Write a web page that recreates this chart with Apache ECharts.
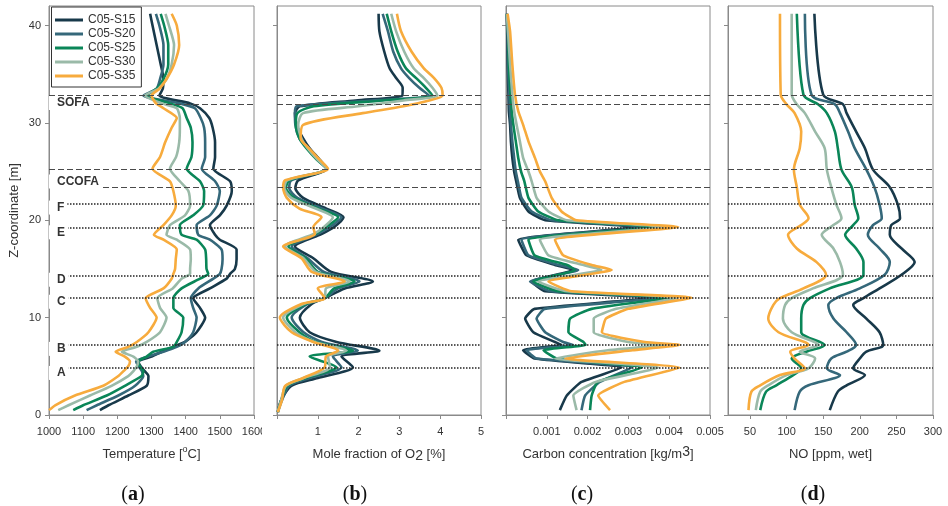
<!DOCTYPE html>
<html>
<head>
<meta charset="utf-8">
<script src="https://cdn.jsdelivr.net/npm/echarts@6/dist/echarts.min.js"></script>
<style>
  html, body { margin: 0; padding: 0; background: #fff; }
  #chart { width: 948px; height: 506px; }
</style>
</head>
<body>
<div id="chart"></div>
<script>
// Cases shown in every panel
const caseNames  = ['C05-S15', 'C05-S20', 'C05-S25', 'C05-S30', 'C05-S35'];
const caseColors = ['#18394a', '#35687a', '#0a8658', '#9abaa8', '#f7ab3d'];

// Burner / air-port elevations [m]
const dashedLevels = [32.8, 31.95, 25.2, 23.4];
const dottedLevels = [21.65, 19.25, 14.35, 12.0, 7.2, 4.85];
const zoneNames    = ['SOFA', 'CCOFA', 'F', 'E', 'D', 'C', 'B', 'A'];
const zoneLabelZ   = [32.03, 23.97, 21.3, 18.76, 13.89, 11.63, 6.79, 4.32];

// (a) Temperature [°C] versus height
const zTemp = [0.5, 1, 2, 3, 4, 4.5, 5, 5.5, 6, 6.5, 7, 7.5, 8.5, 10, 11, 12, 13, 14, 14.5, 15,
  16, 17, 18, 18.5, 19.5, 20.5, 21.5, 23, 24, 25.3, 26.5, 28, 29.5, 30.5, 31.5, 32, 32.8, 33.5,
  34.5, 36, 38, 40, 41.2];
const tempS15 = [1149, 1174, 1232, 1286, 1291, 1280, 1268, 1262, 1300, 1330, 1364, 1398, 1432, 1457, 1442,
  1422, 1471, 1520, 1530, 1544, 1549, 1549, 1500, 1486, 1471, 1500, 1520, 1535, 1530, 1481,
  1486, 1486, 1479, 1469, 1442, 1413, 1323, 1333, 1335, 1327, 1315, 1303, 1296];
const tempS20 = [1110, 1140, 1203, 1252, 1276, 1272, 1262, 1255, 1290, 1335, 1374, 1398, 1422, 1432, 1422,
  1415, 1437, 1481, 1500, 1505, 1508, 1505, 1471, 1437, 1432, 1471, 1491, 1500, 1486, 1447,
  1457, 1457, 1454, 1444, 1427, 1383, 1276, 1315, 1325, 1335, 1335, 1323, 1313];
const tempS25 = [1071, 1100, 1169, 1222, 1271, 1276, 1266, 1261, 1286, 1305, 1364, 1374, 1388, 1393, 1364,
  1364, 1388, 1442, 1466, 1461, 1460, 1457, 1432, 1388, 1383, 1422, 1451, 1454, 1442, 1403,
  1417, 1420, 1415, 1403, 1391, 1354, 1285, 1315, 1335, 1349, 1349, 1337, 1327];
const tempS30 = [1027, 1057, 1120, 1183, 1232, 1247, 1257, 1261, 1247, 1213, 1257, 1286, 1325, 1344, 1325,
  1317, 1362, 1388, 1413, 1413, 1415, 1413, 1374, 1344, 1354, 1398, 1413, 1408, 1383, 1354,
  1372, 1381, 1383, 1383, 1374, 1330, 1280, 1320, 1344, 1359, 1366, 1351, 1341];
const tempS35 = [1000, 1018, 1076, 1159, 1203, 1218, 1232, 1237, 1222, 1195, 1232, 1257, 1291, 1315, 1296,
  1283, 1335, 1359, 1364, 1369, 1371, 1374, 1335, 1307, 1335, 1359, 1371, 1364, 1354, 1303,
  1325, 1340, 1359, 1374, 1335, 1313, 1300, 1323, 1344, 1366, 1381, 1374, 1359];

// (b) O2 mole fraction [%] versus height
const zO2 = [0.3, 1.5, 3.0, 3.8, 4.9, 6.0, 6.6, 7.5, 8.5, 10.0, 11.4, 12.0, 13.0, 13.7, 14.7, 16.1, 17.3,
  18.6, 19.3, 20.3, 21.2, 22.3, 23.3, 24.1, 25.3, 26.2, 27.4, 28.4, 29.8, 31.0, 31.7, 32.3, 32.8,
  33.6, 34.6, 35.6, 37.3, 39.4, 41.2];
const o2S15 = [0.02, 0.1, 0.35, 1.0, 1.86, 1.58, 2.51, 1.46, 0.8, 0.56, 0.85, 1.17, 1.66, 2.35, 1.33,
  0.89, 0.44, 1.1, 1.4, 1.63, 1.21, 0.64, 0.45, 0.52, 1.21, 1.05, 0.8, 0.64, 0.48, 0.44,
  0.56, 1.93, 3.07, 3.08, 2.92, 2.76, 2.63, 2.51, 2.49];
const o2S20 = [0.02, 0.12, 0.3, 0.8, 1.58, 1.37, 1.98, 1.1, 0.65, 0.36, 0.75, 1.17, 1.5, 2.02, 1.15,
  0.75, 0.36, 1.0, 1.3, 1.58, 1.1, 0.5, 0.3, 0.35, 1.21, 1.0, 0.75, 0.55, 0.45, 0.44,
  0.48, 2.35, 3.73, 3.49, 3.24, 3.04, 2.85, 2.72, 2.59];
const o2S25 = [0.02, 0.1, 0.25, 0.7, 1.46, 0.8, 1.86, 0.95, 0.55, 0.24, 0.7, 1.17, 1.4, 1.9, 1.0,
  0.7, 0.28, 0.95, 1.2, 1.5, 1.0, 0.42, 0.22, 0.3, 1.21, 0.98, 0.72, 0.55, 0.46, 0.5,
  0.9, 2.6, 3.81, 3.65, 3.41, 3.16, 2.96, 2.8, 2.69];
const o2S30 = [0.02, 0.1, 0.22, 0.65, 1.3, 1.25, 1.7, 0.92, 0.45, 0.15, 0.65, 1.17, 1.2, 1.78, 0.95,
  0.65, 0.2, 0.9, 1.15, 1.37, 0.95, 0.35, 0.18, 0.25, 1.21, 1.0, 0.75, 0.6, 0.52, 0.64,
  2.0, 3.1, 3.93, 3.81, 3.6, 3.35, 3.12, 2.92, 2.8];
const o2S35 = [0.02, 0.12, 0.2, 0.64, 1.17, 1.2, 1.5, 0.89, 0.36, 0.07, 0.6, 1.17, 1.0, 1.66, 0.85,
  0.6, 0.15, 0.93, 0.89, 1.09, 0.55, 0.24, 0.15, 0.2, 1.25, 1.05, 0.78, 0.58, 0.64, 2.1,
  3.1, 3.73, 4.06, 4.03, 3.85, 3.6, 3.3, 3.04, 2.94];

// (c) Carbon concentration [kg/m3] versus height
const zCarbon = [0.5, 2.0, 3.4, 4.87, 5.8, 6.65, 7.2, 7.5, 8.5, 9.9, 10.9, 12.05, 12.7, 13.7, 14.9, 15.4,
  16.4, 18.0, 19.3, 20.0, 20.9, 22.3, 24.0, 25.0, 26.4, 28.1, 29.8, 31.2, 32.9, 36.0, 39.4, 41.2];
const carbonS15 = [0.00132, 0.00149, 0.00185, 0.00283, 0.0007, 0.00042, 0.00136, 0.0012, 0.00067, 0.00047,
  0.0007, 0.0036, 0.00096, 0.00063, 0.00165, 0.0012, 0.0005, 0.0003, 0.0032, 0.00096,
  0.00055, 0.00034, 0.00025, 0.0002, 0.000155, 0.00012, 0.0001, 0.00007, 0.00006, 0.00004, 0.00003, 0.00002];
const carbonS20 = [0.00185, 0.00194, 0.0023, 0.00308, 0.00075, 0.0005, 0.00165, 0.0014, 0.00096, 0.00075,
  0.00095, 0.0038, 0.0011, 0.00059, 0.00177, 0.0013, 0.00055, 0.00038, 0.00345, 0.00112,
  0.00063, 0.00038, 0.00029, 0.00024, 0.0002, 0.000155, 0.00012, 0.0001, 0.00008, 0.00005, 0.00004, 0.00002];
const carbonS25 = [0.00206, 0.0021, 0.00225, 0.00333, 0.00124, 0.00092, 0.00195, 0.0019, 0.00153, 0.00157,
  0.0021, 0.004, 0.0013, 0.00067, 0.00169, 0.0015, 0.0007, 0.00055, 0.0037, 0.00128,
  0.00079, 0.00055, 0.00045, 0.00037, 0.0003, 0.00024, 0.00018, 0.00014, 0.00011, 0.00007, 0.00005, 0.00002];
const carbonS30 = [0.00173, 0.00165, 0.0022, 0.00373, 0.0012, 0.0025, 0.0039, 0.003, 0.00215, 0.00215,
  0.0027, 0.0042, 0.0015, 0.00079, 0.00234, 0.0019, 0.00104, 0.00083, 0.00395, 0.00149,
  0.00104, 0.00075, 0.00063, 0.00055, 0.00042, 0.00034, 0.00026, 0.0002, 0.000155, 0.0001, 0.00005, 0.00002];
const carbonS35 = [0.00255, 0.00226, 0.0029, 0.00426, 0.00145, 0.0031, 0.00426, 0.0034, 0.00235, 0.00245,
  0.003, 0.00455, 0.00161, 0.00104, 0.00259, 0.0021, 0.0014, 0.0012, 0.00422, 0.00173,
  0.00136, 0.00112, 0.00096, 0.00083, 0.00071, 0.00055, 0.00042, 0.0003, 0.00022, 0.000155, 0.0001, 0.00004];

// (d) NO [ppm, wet] versus height
const zNO = [0.5, 2.4, 3.05, 4.1, 4.8, 5.8, 6.5, 7.2, 8.5, 9.9, 11.3, 12, 13, 14.4, 15.7, 17.1, 18.5,
  19.5, 20.2, 21.6, 23.4, 25.2, 27.4, 29.1, 31, 31.9, 32.9, 41.2];
const noS15 = [159, 170, 182, 207, 191, 200, 209, 232, 227, 209, 191, 205, 227, 257, 275, 257, 241,
  243, 255, 252, 241, 218, 207, 195, 182, 177, 150, 138];
const noS20 = [111, 118, 130, 173, 155, 161, 182, 195, 182, 164, 157, 168, 200, 234, 241, 227, 211,
  218, 230, 227, 220, 209, 193, 184, 173, 166, 134, 125];
const noS25 = [64, 72, 86, 109, 120, 107, 127, 152, 120, 120, 123, 132, 159, 205, 205, 195, 180,
  191, 198, 193, 189, 175, 170, 166, 155, 143, 123, 114];
const noS30 = [58, 64, 75, 100, 130, 139, 118, 143, 107, 95, 98, 107, 136, 177, 173, 164, 148,
  164, 175, 168, 161, 155, 152, 139, 125, 114, 107, 107];
const noS35 = [48, 52, 64, 91, 125, 111, 105, 130, 89, 75, 82, 91, 123, 154, 141, 114, 102,
  120, 130, 118, 114, 110, 118, 120, 111, 100, 92, 91];

// Axis tick labels
const tempTicks = [1000, 1100, 1200, 1300, 1400, 1500, 1600];
const noTicks = [50, 100, 150, 200, 250, 300];
const zTicks = [0, 10, 20, 30, 40];

const panels = [
  { z: zTemp,   cases: [tempS15, tempS20, tempS25, tempS30, tempS35], smooth: 0.2 },
  { z: zO2,     cases: [o2S15, o2S20, o2S25, o2S30, o2S35], smooth: 0.25 },
  { z: zCarbon, cases: [carbonS15, carbonS20, carbonS25, carbonS30, carbonS35], smooth: 0.15 },
  { z: zNO,     cases: [noS15, noS20, noS25, noS30, noS35], smooth: 0.3 }
];

const frameColor = '#8a8a8a';
const textColor = '#333';
const sansFont = '"Liberation Sans", Arial, sans-serif';

const gridBoxes = [
  { left: 49, top: 6, width: 205, height: 409 },
  { left: 277, top: 6, width: 204, height: 409 },
  { left: 506, top: 6, width: 204, height: 409 },
  { left: 728, top: 6, width: 205, height: 409 }
];

function baseXAxis(idx) {
  return {
    gridIndex: idx,
    type: 'value',
    nameLocation: 'middle',
    nameGap: 30,
    nameTextStyle: { fontSize: 13, color: textColor, fontFamily: sansFont, lineHeight: 18 },
    axisLine: { show: true, onZero: false, lineStyle: { color: frameColor, width: 1 } },
    axisTick: { show: true, inside: false, length: 4, lineStyle: { color: frameColor } },
    axisLabel: { color: textColor, fontSize: 11, fontFamily: sansFont, margin: 11 },
    splitLine: { show: false }
  };
}

const xAxes = [
  Object.assign(baseXAxis(0), {
    min: 1000, max: 1600, interval: 100,
    name: 'Temperature [{s|o}C]',
    nameTextStyle: { fontSize: 13, color: textColor, fontFamily: sansFont, lineHeight: 18,
      rich: { s: { fontSize: 9, lineHeight: 10, verticalAlign: 'top', color: textColor, fontFamily: sansFont } } }
  }),
  Object.assign(baseXAxis(1), {
    min: 0, max: 5, interval: 1,
    name: 'Mole fraction of O{d|2} [%]',
    nameTextStyle: { fontSize: 13, color: textColor, fontFamily: sansFont, lineHeight: 18,
      rich: { d: { fontSize: 14, lineHeight: 14, verticalAlign: 'bottom', color: textColor, fontFamily: sansFont } } }
  }),
  Object.assign(baseXAxis(2), {
    min: 0, max: 0.005, interval: 0.001,
    name: 'Carbon concentration [kg/m{u|3}]',
    nameTextStyle: { fontSize: 13, color: textColor, fontFamily: sansFont, lineHeight: 18,
      rich: { u: { fontSize: 14, lineHeight: 14, verticalAlign: 'top', color: textColor, fontFamily: sansFont } } }
  }),
  Object.assign(baseXAxis(3), {
    min: 20, max: 300,
    name: 'NO [ppm, wet]'
  })
];
xAxes[0].axisLabel.formatter = v => String(v);
xAxes[0].axisLabel.customValues = tempTicks;
xAxes[1].axisLabel.formatter = v => (v === 0 ? '' : String(v));
xAxes[2].axisLabel.formatter = v => (v === 0 ? '' : String(+v.toFixed(3)));
xAxes[3].axisLabel.formatter = v => String(v);
xAxes[3].axisLabel.customValues = noTicks;
xAxes[3].axisTick.customValues = noTicks;

const yAxes = gridBoxes.map((g, i) => ({
  gridIndex: i,
  type: 'value',
  min: 0, max: 42,
  name: i === 0 ? 'Z-coordinate [m]' : '',
  nameLocation: 'middle',
  nameGap: 28,
  nameTextStyle: { fontSize: 13, color: textColor, fontFamily: sansFont },
  axisLine: { show: true, onZero: false, lineStyle: { color: frameColor, width: 1 } },
  axisTick: { show: true, inside: false, length: 4, customValues: zTicks, lineStyle: { color: frameColor } },
  axisLabel: { show: i === 0, customValues: zTicks, color: textColor, fontSize: 11, fontFamily: sansFont, margin: 8 },
  splitLine: { show: false }
}));

const series = [];

// Reference elevation lines in each panel
gridBoxes.forEach((g, i) => {
  series.push({
    type: 'line',
    xAxisIndex: i, yAxisIndex: i,
    data: [],
    silent: true,
    z: 1,
    markLine: {
      symbol: 'none',
      silent: true,
      animation: false,
      label: { show: false },
      emphasis: { disabled: true },
      data: [
        ...dashedLevels.map(v => ({ yAxis: v, lineStyle: { type: [6, 3], color: '#4a4a4a', width: 1.1 } })),
        ...dottedLevels.map(v => ({ yAxis: v, lineStyle: { type: [1.5, 1.5], color: '#222', width: 1.5 } }))
      ]
    }
  });
});

// Profiles
panels.forEach((p, gi) => {
  p.cases.forEach((vals, ci) => {
    series.push({
      name: caseNames[ci],
      type: 'line',
      xAxisIndex: gi, yAxisIndex: gi,
      data: vals.map((v, k) => [v, p.z[k]]),
      symbol: 'none',
      showSymbol: false,
      smooth: p.smooth,
      clip: true,
      z: 3 + ci * 0.1,
      lineStyle: { color: caseColors[ci], width: 2.6, join: 'round' },
      itemStyle: { color: caseColors[ci] },
      emphasis: { disabled: true }
    });
  });
});

// Zone names on the temperature panel
series.push({
  type: 'scatter',
  xAxisIndex: 0, yAxisIndex: 0,
  data: zoneNames.map((n, i) => ({ name: n, value: [1000, zoneLabelZ[i]] })),
  symbolSize: 0,
  silent: true,
  z: 10,
  clip: false,
  itemStyle: { opacity: 1 },
  emphasis: { disabled: true },
  label: {
    show: true,
    position: 'right',
    distance: 0,
    formatter: '{b}',
    fontWeight: 'bold',
    fontSize: 12,
    fontFamily: sansFont,
    color: '#333',
    opacity: 1,
    backgroundColor: '#fff',
    lineHeight: 10,
    padding: [0, 3, 4, 8]
  }
});

const captions = [
  { text: 'a', x: 133 },
  { text: 'b', x: 355 },
  { text: 'c', x: 582 },
  { text: 'd', x: 813 }
];

const option = {
  animation: false,
  backgroundColor: '#fff',
  grid: gridBoxes.map(g => Object.assign({ show: true, borderColor: frameColor, borderWidth: 1, backgroundColor: 'transparent', containLabel: false }, g)),
  xAxis: xAxes,
  yAxis: yAxes,
  legend: {
    data: caseNames.map(n => ({ name: n, icon: 'rect' })),
    left: 51.5,
    top: 7,
    orient: 'vertical',
    itemWidth: 28,
    itemHeight: 3,
    itemGap: 0,
    padding: [6, 6, 4, 3.5],
    borderColor: '#333',
    borderWidth: 1,
    backgroundColor: '#fff',
    selectedMode: false,
    textStyle: { fontSize: 12, lineHeight: 14, color: '#333', fontFamily: sansFont }
  },
  graphic: [
    // the last temperature tick label is cut by the next panel
    { type: 'rect', z: 100, shape: { x: 262, y: 422, width: 14, height: 18 }, style: { fill: '#fff' } },
    ...captions.map(c => ({
      type: 'text',
      x: c.x, y: 495,
      z: 100,
      style: {
        text: '{p|(}{b|' + c.text + '}{p|)}',
        align: 'center',
        verticalAlign: 'middle',
        rich: {
          p: { fontSize: 20, fontFamily: '"Liberation Serif", "Times New Roman", serif', fill: '#111' },
          b: { fontSize: 20, fontWeight: 'bold', fontFamily: '"Liberation Serif", "Times New Roman", serif', fill: '#111' }
        }
      }
    }))
  ],
  series: series
};

const chart = echarts.init(document.getElementById('chart'), null, { renderer: 'canvas' });
chart.setOption(option);
</script>
</body>
</html>
